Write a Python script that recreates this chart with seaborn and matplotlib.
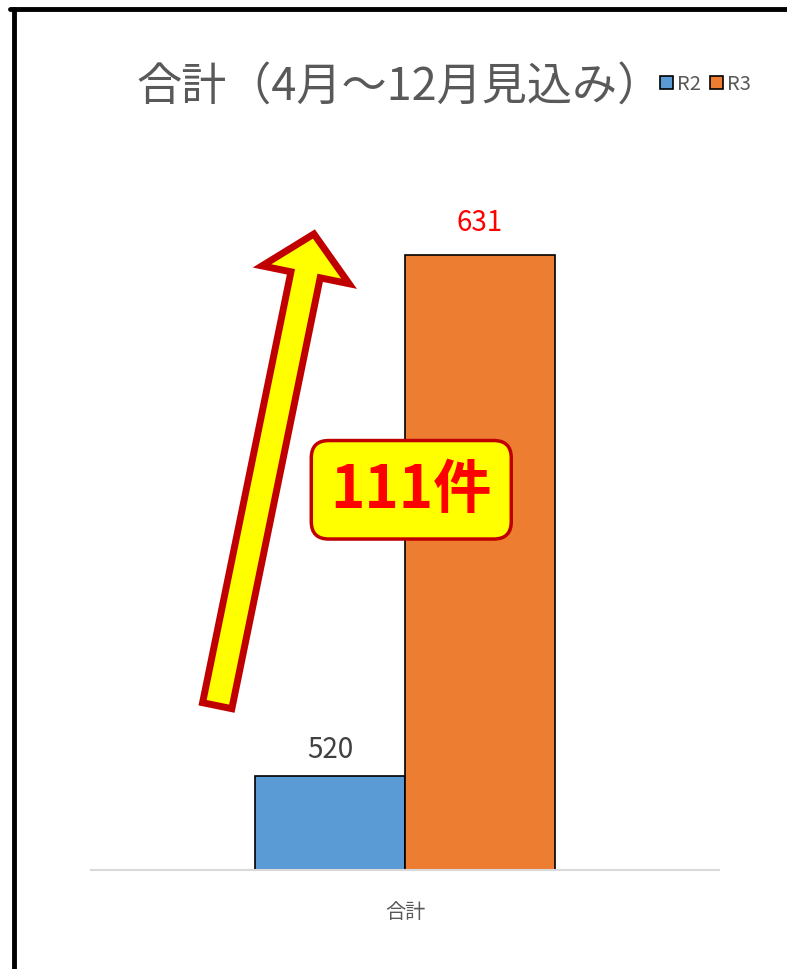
import matplotlib
matplotlib.use("Agg")
import matplotlib.pyplot as plt
import seaborn as sns
import pandas as pd
from matplotlib.patches import Patch
from matplotlib.lines import Line2D

# data
categories = ["合計"]
series = ["R2", "R3"]
values = [520, 631]
title = "合計（4月～12月見込み）"
increase_label = "111件"

colors = ["#5B9BD5", "#ED7D31"]

sns.set_theme(style="white")
plt.rcParams['font.family'] = ['Noto Sans CJK JP', 'DejaVu Sans']

df = pd.DataFrame({"category": categories * len(series), "series": series, "value": values})

fig = plt.figure(figsize=(7.87, 9.70), dpi=100)
ax = fig.add_axes([0.1156, 0.1021, 0.798, 0.7258])

sns.barplot(data=df, x="category", y="value", hue="series", palette=colors,
            saturation=1, width=0.478, edgecolor="black", linewidth=1.2,
            legend=False, ax=ax)
ax.set_ylim(500, 650)
ax.set_xlim(-0.5, 0.5)

ax.bar_label(ax.containers[0], fontsize=20, color="#404040", padding=9)
ax.bar_label(ax.containers[1], fontsize=20, color="#FF0000", padding=13)

for s in ["top", "left", "right"]:
    ax.spines[s].set_visible(False)
ax.spines["bottom"].set_color("#D9D9D9")
ax.spines["bottom"].set_linewidth(1.5)
ax.set_yticks([])
ax.set_xlabel("")
ax.set_ylabel("")
ax.tick_params(axis="x", length=0, labelsize=14.5, labelcolor="#595959", pad=22)

# big arrow
ax.annotate("", xy=(-0.145, 635.5), xytext=(-0.299, 535), xycoords="data",
            arrowprops=dict(arrowstyle="simple,head_length=0.6,head_width=1.28,tail_width=0.43",
                            mutation_scale=50, fc="#FFFF00", ec="#C00000", lw=5,
                            shrinkA=0, shrinkB=0, joinstyle="miter"))

ax.text(0.01, 581, increase_label, ha="center", va="center", fontsize=42,
        fontweight="bold", color="#FF0000",
        bbox=dict(boxstyle="round,pad=0.33,rounding_size=0.3", fc="#FFFF00",
                  ec="#C00000", lw=2.5))

fig.text(400 / 787, 1 - 87 / 970, title, ha="center", va="center",
         fontsize=32.5, color="#595959")

handles = [Patch(facecolor=c, edgecolor="black", linewidth=1.2) for c in colors]
fig.legend(handles, series, loc="center left", bbox_to_anchor=(660 / 787, 1 - 85 / 970),
           frameon=False, fontsize=14.5, labelcolor="#595959", ncol=2,
           handlelength=0.65, handleheight=0.65, handletextpad=0.2, columnspacing=0.45,
           borderaxespad=0, borderpad=0)

# frame lines
fig.add_artist(Line2D([10 / 787, 1], [1 - 10 / 970] * 2, color="black", lw=3.5))
fig.add_artist(Line2D([14 / 787] * 2, [0, 1 - 10 / 970], color="black", lw=3.5))

fig.savefig("out.png", dpi=100)
